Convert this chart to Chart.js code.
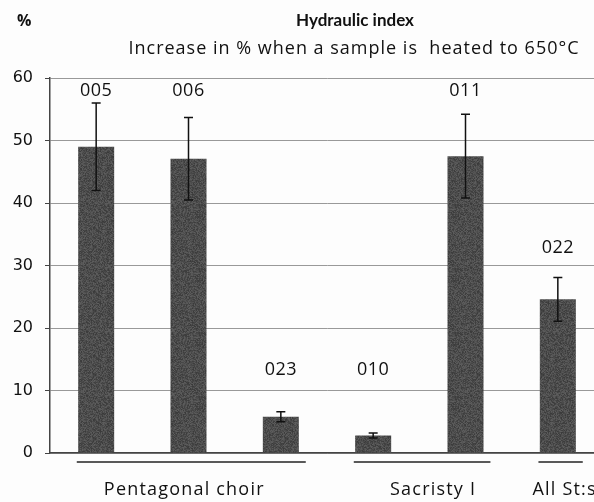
<!DOCTYPE html>
<html>
<head>
<meta charset="utf-8">
<script src="https://cdn.jsdelivr.net/npm/chart.js@4"></script>
<style>
  html, body { margin: 0; padding: 0; background: #fdfdfd; overflow: hidden; }
  #wrap { width: 594px; height: 502px; overflow: hidden; }
</style>
</head>
<body>
<div id="wrap"><canvas id="chart" width="604" height="502"></canvas></div>
<script>
// sample codes and measured values (% increase)
const categories = ["005", "006", "023", "010", "011", "022"];
const values = [49.0, 47.1, 5.8, 2.8, 47.5, 24.6];
const errors = [7.0, 6.6, 0.8, 0.4, 6.7, 3.5];
// height (in %) at which each sample code is written
const labelAt = [58, 58, 13.3, 13.3, 58, 32.9];
const groups = ["Pentagonal choir", "Sacristy I", "All St:s"];
const groupFirst = [0, 3, 5];
const groupLast = [2, 4, 5];
const yTicks = [0, 10, 20, 30, 40, 50, 60];

const textFont = '"Open Sans", sans-serif';

// mottled dark grey fill like the scanned bars
function makeTexture() {
  const c = document.createElement("canvas");
  c.width = 64; c.height = 64;
  const g = c.getContext("2d");
  const img = g.createImageData(64, 64);
  for (let i = 0; i < 64 * 64; i++) {
    const x = i % 64, y = Math.floor(i / 64);
    let h = Math.sin(x * 12.9898 + y * 78.233) * 43758.5453;
    h = h - Math.floor(h);
    const v = 58 + Math.round(h * 36);
    img.data[i * 4] = v; img.data[i * 4 + 1] = v; img.data[i * 4 + 2] = v; img.data[i * 4 + 3] = 255;
  }
  g.putImageData(img, 0, 0);
  return g.createPattern(c, "repeat");
}

const extras = {
  id: "extras",
  beforeDraw(chart) {
    const ctx = chart.ctx;
    ctx.save();
    ctx.fillStyle = "#fdfdfd";
    ctx.fillRect(0, 0, chart.width, chart.height);
    ctx.restore();
  },
  afterDatasetsDraw(chart) {
    const ctx = chart.ctx;
    const x = chart.scales.x, y = chart.scales.y;
    ctx.save();
    ctx.strokeStyle = "#111";
    ctx.lineWidth = 1.5;
    values.forEach((v, i) => {
      const cx = x.getPixelForValue(i);
      const top = y.getPixelForValue(v + errors[i]);
      const bot = y.getPixelForValue(v - errors[i]);
      ctx.beginPath();
      ctx.moveTo(cx, top); ctx.lineTo(cx, bot);
      ctx.moveTo(cx - 4.5, top); ctx.lineTo(cx + 4.5, top);
      ctx.moveTo(cx - 4.5, bot); ctx.lineTo(cx + 4.5, bot);
      ctx.stroke();
    });
    ctx.restore();
  },
  afterDraw(chart) {
    const ctx = chart.ctx;
    const x = chart.scales.x, y = chart.scales.y;
    const band = x.getPixelForValue(1) - x.getPixelForValue(0);
    ctx.save();
    ctx.fillStyle = "#111";
    ctx.textBaseline = "middle";

    ctx.textAlign = "left";
    ctx.font = "bold 16px " + textFont;
    ctx.fillText("%", 17, 21);

    ctx.textAlign = "center";
    ctx.font = "bold 17px Lato, sans-serif";
    ctx.fillText("Hydraulic index", 355, 21);
    ctx.letterSpacing = "1px";
    ctx.font = "18px " + textFont;
    ctx.fillText("Increase in % when a sample is  heated to 650°C", 354, 49);

    ctx.letterSpacing = "0.5px";
    ctx.font = "18px " + textFont;
    categories.forEach((c, i) => {
      ctx.fillText(c, x.getPixelForValue(i), y.getPixelForValue(labelAt[i]));
    });

    // text boxes under the group lines are not exactly centred
    const shift = [-7, 11, 4];
    ctx.strokeStyle = "#222";
    ctx.lineWidth = 1.5;
    ctx.letterSpacing = "1.2px";
    ctx.font = "18px " + textFont;
    groups.forEach((g, i) => {
      const a = x.getPixelForValue(groupFirst[i]) - band * 0.21;
      const b = x.getPixelForValue(groupLast[i]) + band * 0.27;
      ctx.beginPath();
      ctx.moveTo(a, 462); ctx.lineTo(b, 462);
      ctx.stroke();
      ctx.fillText(g, (a + b) / 2 + shift[i], 490);
    });
    ctx.restore();
  }
};

new Chart(document.getElementById("chart"), {
  type: "bar",
  data: {
    labels: categories,
    datasets: [{
      data: values,
      backgroundColor: makeTexture(),
      borderWidth: 0,
      categoryPercentage: 1,
      barPercentage: 0.39
    }]
  },
  options: {
    responsive: false,
    animation: false,
    devicePixelRatio: 1,
    layout: { padding: { top: 78, bottom: 49, left: 0, right: 0 } },
    plugins: { legend: { display: false }, tooltip: { enabled: false } },
    scales: {
      x: {
        grid: { display: false, drawTicks: false },
        ticks: { display: false },
        border: { display: true, color: "#444", width: 1.5 },
        afterFit(scale) { scale.height = 0; }
      },
      y: {
        min: 0,
        max: 60,
        afterBuildTicks(scale) { scale.ticks = yTicks.map(v => ({ value: v })); },
        afterFit(scale) { scale.width = 50; },
        grid: { color: "#999", lineWidth: 1, tickLength: 5, tickColor: "#444" },
        border: { display: true, color: "#444", width: 1.5 },
        ticks: {
          padding: 12,
          color: "#111",
          font: { family: '"DejaVu Sans", sans-serif', size: 16 }
        }
      }
    }
  },
  plugins: [extras]
});
</script>
</body>
</html>
